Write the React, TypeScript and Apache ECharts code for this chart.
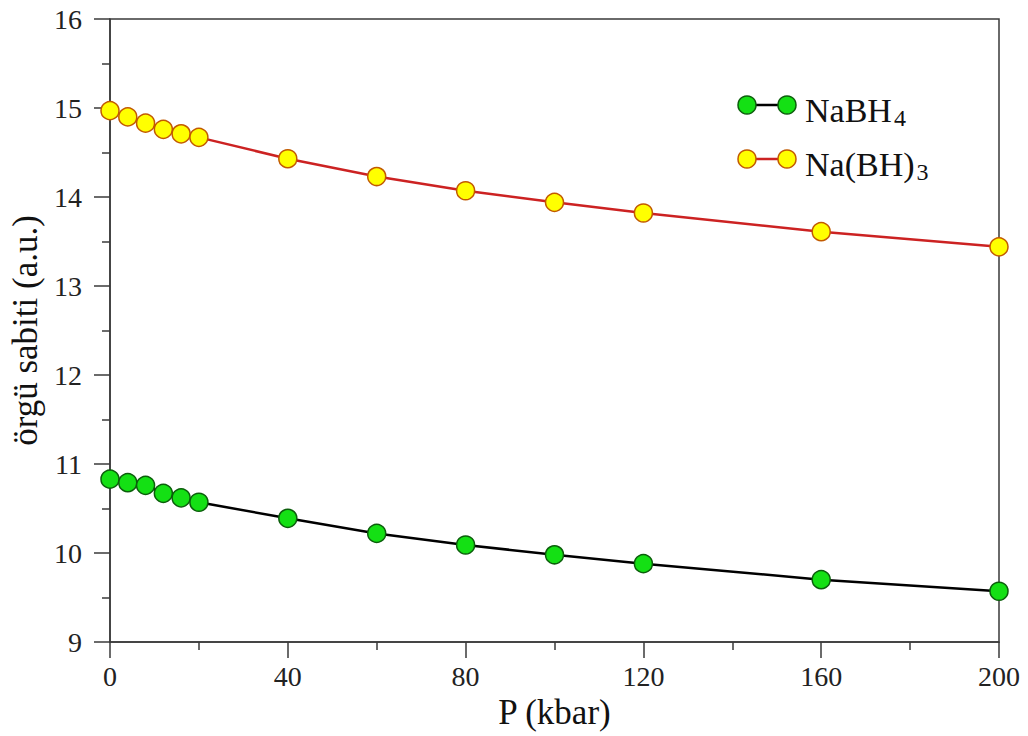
import React, { useEffect, useRef } from "react";
import * as echarts from "echarts";

const pressures = [0, 4, 8, 12, 16, 20, 40, 60, 80, 100, 120, 160, 200];
const naBH4 = [10.83, 10.79, 10.76, 10.67, 10.62, 10.57, 10.39, 10.22, 10.09, 9.98, 9.88, 9.7, 9.57];
const naBH3 = [14.97, 14.9, 14.83, 14.76, 14.71, 14.67, 14.43, 14.23, 14.07, 13.94, 13.82, 13.61, 13.44];
const xTicks = { min: 0, max: 200, interval: 40 };
const yTicks = { min: 9, max: 16, interval: 1 };

const FONT = "'Liberation Serif', 'Times New Roman', serif";
const AXIS_COLOR = "#3a3a3a";

const GREEN = { fill: "#14e014", border: "#0b5e0b", line: "#000000" };
const YELLOW = { fill: "#ffff00", border: "#c25a00", line: "#cc2222" };

export default function App() {
  const ref = useRef<HTMLDivElement>(null);
  useEffect(() => {
    if (!ref.current) return;
    const chart = echarts.init(ref.current, undefined, { renderer: "svg" });
    const axisCommon = {
      axisLine: { show: true, lineStyle: { color: AXIS_COLOR, width: 1.5 } },
      axisTick: { show: true, inside: false, length: 16, lineStyle: { color: AXIS_COLOR, width: 1.5 } },
      minorTick: { show: true, splitNumber: 2, length: 8, lineStyle: { color: AXIS_COLOR, width: 1.5 } },
      splitLine: { show: false },
      minorSplitLine: { show: false },
    };
    const legendItem = (y: number, c: typeof GREEN, rich: string) => [
      { type: "line", shape: { x1: 747, y1: y, x2: 787, y2: y }, style: { stroke: c.line, lineWidth: 2.5 } },
      { type: "circle", shape: { cx: 747, cy: y, r: 9 }, style: { fill: c.fill, stroke: c.border, lineWidth: 1.5 } },
      { type: "circle", shape: { cx: 787, cy: y, r: 9 }, style: { fill: c.fill, stroke: c.border, lineWidth: 1.5 } },
      {
        type: "text",
        x: 805,
        y: y + 5,
        style: {
          text: rich,
          fontFamily: FONT,
          fill: "#111",
          verticalAlign: "middle",
          align: "left",
          rich: {
            n: { fontSize: 34, fontFamily: FONT, fill: "#111", lineHeight: 40, verticalAlign: "middle" },
            s: { fontSize: 24, fontFamily: FONT, fill: "#111", lineHeight: 24, verticalAlign: "bottom", padding: [22, 0, 0, 2] },
          },
        },
      },
    ];
    chart.setOption({
      animation: false,
      backgroundColor: "#ffffff",
      textStyle: { fontFamily: FONT },
      grid: { left: 110, right: 29, top: 19, bottom: 94, show: true, borderColor: AXIS_COLOR, borderWidth: 1.5, backgroundColor: "transparent" },
      xAxis: {
        type: "value",
        min: xTicks.min,
        max: xTicks.max,
        interval: xTicks.interval,
        name: "P (kbar)",
        nameLocation: "middle",
        nameGap: 48,
        nameTextStyle: { fontFamily: FONT, fontSize: 35, color: "#111" },
        axisLabel: { fontFamily: FONT, fontSize: 28, color: "#222", margin: 20 },
        ...axisCommon,
      },
      yAxis: {
        type: "value",
        min: yTicks.min,
        max: yTicks.max,
        interval: yTicks.interval,
        name: "örgü sabiti (a.u.)",
        nameLocation: "middle",
        nameGap: 67,
        nameTextStyle: { fontFamily: FONT, fontSize: 35, color: "#111" },
        axisLabel: { fontFamily: FONT, fontSize: 28, color: "#222", margin: 28 },
        ...axisCommon,
      },
      series: [
        {
          name: "NaBH4",
          type: "line",
          clip: false,
          data: pressures.map((p, i) => [p, naBH4[i]]),
          symbol: "circle",
          symbolSize: 18,
          lineStyle: { color: GREEN.line, width: 2.5 },
          itemStyle: { color: GREEN.fill, borderColor: GREEN.border, borderWidth: 1.5 },
        },
        {
          name: "Na(BH)3",
          type: "line",
          clip: false,
          data: pressures.map((p, i) => [p, naBH3[i]]),
          symbol: "circle",
          symbolSize: 18,
          lineStyle: { color: YELLOW.line, width: 2.5 },
          itemStyle: { color: YELLOW.fill, borderColor: YELLOW.border, borderWidth: 1.5 },
        },
      ],
      graphic: [
        ...legendItem(105, GREEN, "{n|NaBH}{s|4}"),
        ...legendItem(159, YELLOW, "{n|Na(BH)}{s|3}"),
      ],
    });
    return () => chart.dispose();
  }, []);
  return <div ref={ref} style={{ position: "fixed", left: 0, top: 0, width: 1028, height: 736 }} />;
}
